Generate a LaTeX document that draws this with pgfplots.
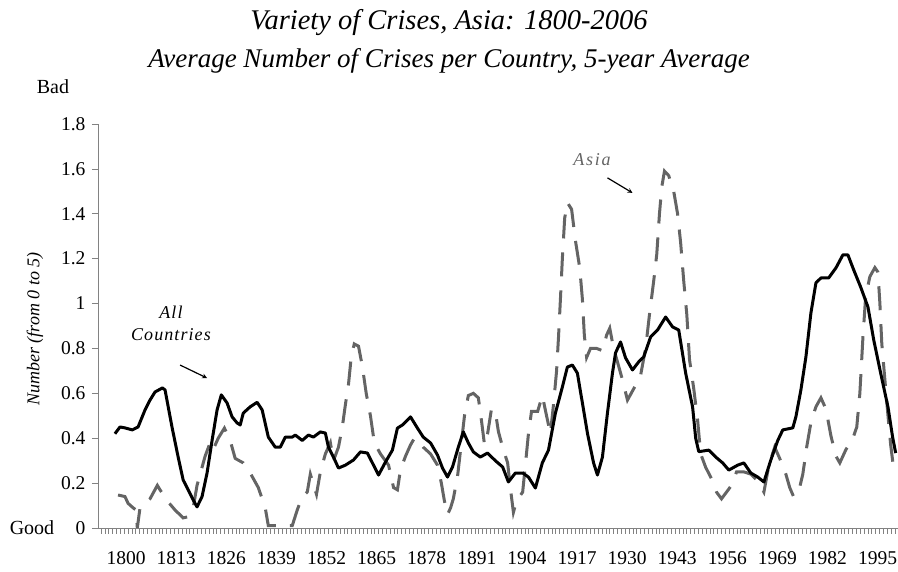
\documentclass[border=0pt]{standalone}
\usepackage{pgfplots}
\pgfplotsset{compat=1.18}
\usepackage{fontspec}
\setmainfont{Liberation Serif}
\definecolor{asiagray}{RGB}{100,100,100}
\definecolor{axgray}{RGB}{130,130,130}
\begin{document}
\begin{tikzpicture}[x=1pt,y=1pt]
\useasboundingbox (0,0) rectangle (898,572);
\begin{axis}[
  at={(98pt,44pt)}, anchor=south west,
  scale only axis, width=800pt, height=404pt,
  xmin=1792.7, xmax=2000.3, ymin=0, ymax=1.8,
  axis lines=left,
  axis line style={axgray, line width=0.8pt, -},
  tick align=outside, tick pos=left,
  major tick length=6pt, minor tick length=6pt,
  tick style={axgray, line width=0.6pt},
  major x tick style={draw=none},
  xtick={1800,1813,1826,1839,1852,1865,1878,1891,1904,1917,1930,1943,1956,1969,1982,1995},
  xticklabels={1800,1813,1826,1839,1852,1865,1878,1891,1904,1917,1930,1943,1956,1969,1982,1995},
  minor xtick={1793.5,1794.5,...,1999.5},
  ytick={0,0.2,0.4,0.6,0.8,1,1.2,1.4,1.6,1.8},
  yticklabels={0,0.2,0.4,0.6,0.8,1,1.2,1.4,1.6,1.8},
  ticklabel style={font=\fontsize{19.5}{20}\selectfont, text=black},
  xticklabel style={yshift=-16pt, inner sep=1pt},
  yticklabel style={xshift=-3pt},
  clip=false,
]
\addplot[asiagray, line width=3pt, line cap=butt, dash pattern=on 24pt off 14pt] coordinates {
(1797.9,0.147)(1799.7,0.14)(1800.5,0.11)(1801.8,0.09)(1802.6,0.08)(1802.9,0.0)(1803.6,0.09)
(1806.2,0.13)(1808.1,0.19)(1808.8,0.17)(1810.9,0.116)(1812.7,0.08)(1814.8,0.045)(1816.1,0.05)
(1817.4,0.09)(1818.4,0.19)(1820.5,0.32)(1821.8,0.38)(1822.6,0.35)(1823.9,0.40)(1825.5,0.445)
(1827.0,0.39)(1828.3,0.31)(1830.4,0.29)(1832.2,0.245)(1834.3,0.18)(1836.1,0.09)(1836.9,0.01)
(1843.1,0.01)(1844.4,0.08)(1845.7,0.14)(1847.0,0.16)(1847.8,0.24)(1849.4,0.15)(1850.4,0.25)
(1851.7,0.33)(1853.0,0.38)(1853.8,0.30)(1855.1,0.36)(1856.1,0.45)(1856.9,0.55)(1857.7,0.64)
(1858.4,0.76)(1859.2,0.82)(1860.3,0.81)(1861.3,0.72)(1862.3,0.60)(1863.4,0.50)(1864.4,0.38)
(1866.0,0.33)(1868.1,0.28)(1869.4,0.18)(1870.4,0.17)(1871.2,0.26)(1872.5,0.32)(1873.8,0.37)
(1874.8,0.40)(1875.8,0.39)(1877.1,0.36)(1879.0,0.33)(1880.8,0.28)(1881.8,0.20)(1882.6,0.12)
(1883.4,0.06)(1884.2,0.09)(1884.9,0.13)(1886.0,0.23)(1887.0,0.38)(1887.8,0.50)(1888.8,0.59)
(1890.1,0.60)(1891.4,0.58)(1892.2,0.48)(1893.0,0.37)(1893.8,0.42)(1894.8,0.53)(1895.8,0.52)
(1896.6,0.43)(1897.7,0.36)(1899.0,0.29)(1899.7,0.18)(1900.5,0.07)(1901.3,0.12)(1902.9,0.16)
(1903.6,0.28)(1904.4,0.42)(1905.2,0.52)(1906.8,0.52)(1908.0,0.59)(1909.1,0.50)(1910.1,0.42)
(1910.9,0.55)(1911.7,0.70)(1912.2,0.85)(1912.7,1.02)(1913.2,1.20)(1913.8,1.38)(1914.5,1.45)
(1915.6,1.42)(1916.6,1.28)(1917.7,1.16)(1918.4,1.02)(1918.9,0.86)(1919.5,0.76)(1920.5,0.80)
(1922.1,0.80)(1923.6,0.79)(1924.7,0.86)(1925.5,0.89)(1926.5,0.80)(1927.5,0.74)(1928.8,0.66)
(1930.1,0.57)(1931.7,0.62)(1933.5,0.68)(1934.8,0.80)(1935.8,0.95)(1936.9,1.10)(1937.7,1.22)
(1938.4,1.40)(1939.0,1.52)(1939.7,1.59)(1940.8,1.57)(1942.1,1.50)(1943.1,1.40)(1943.9,1.27)
(1944.7,1.10)(1945.5,0.95)(1946.2,0.75)(1947.3,0.62)(1948.3,0.48)(1949.1,0.33)(1950.4,0.27)
(1951.9,0.22)(1953.2,0.16)(1954.5,0.13)(1955.8,0.16)(1957.1,0.19)(1958.4,0.25)(1960.3,0.25)
(1962.1,0.24)(1963.9,0.21)(1965.5,0.16)(1966.8,0.28)(1968.3,0.36)(1969.6,0.31)(1971.2,0.24)
(1972.2,0.18)(1973.2,0.14)(1974.5,0.16)(1975.6,0.24)(1976.6,0.36)(1977.7,0.47)(1979.0,0.54)
(1980.3,0.58)(1981.6,0.53)(1982.9,0.41)(1984.2,0.32)(1985.2,0.29)(1986.8,0.35)(1988.6,0.40)
(1989.6,0.45)(1990.4,0.60)(1991.2,0.85)(1991.9,1.03)(1993.0,1.12)(1994.3,1.16)(1995.1,1.14)
(1995.6,1.00)(1996.1,0.82)(1996.9,0.66)(1997.7,0.50)(1998.4,0.37)(1999.2,0.26)
};
\addplot[black, line width=3pt, line join=round] coordinates {
(1797.1,0.42)(1798.4,0.45)(1799.7,0.446)(1801.6,0.437)(1803.1,0.45)(1804.9,0.526)(1806.2,0.57)
(1807.5,0.606)(1809.4,0.624)(1810.1,0.615)(1811.9,0.45)(1813.5,0.316)(1814.8,0.214)(1816.1,0.17)
(1817.4,0.125)(1818.4,0.094)(1819.7,0.14)(1821.0,0.245)(1822.3,0.39)(1823.6,0.526)(1824.7,0.593)
(1826.2,0.557)(1827.5,0.495)(1828.8,0.468)(1829.6,0.459)(1830.4,0.512)(1832.2,0.54)(1834.0,0.56)
(1835.3,0.526)(1836.9,0.405)(1838.7,0.36)(1840.0,0.36)(1841.3,0.405)(1843.1,0.405)(1843.9,0.414)
(1845.7,0.39)(1847.3,0.414)(1848.6,0.405)(1850.4,0.428)(1851.7,0.423)(1852.5,0.36)(1853.8,0.316)
(1855.1,0.267)(1856.9,0.28)(1859.0,0.303)(1860.8,0.339)(1862.6,0.334)(1864.2,0.28)(1865.5,0.236)
(1867.3,0.294)(1869.1,0.347)(1870.4,0.445)(1871.7,0.459)(1873.8,0.495)(1875.6,0.445)(1877.1,0.405)
(1879.0,0.379)(1880.8,0.325)(1882.1,0.267)(1883.4,0.227)(1884.7,0.272)(1886.2,0.36)(1887.5,0.428)
(1888.8,0.379)(1890.1,0.339)(1891.9,0.316)(1893.8,0.334)(1895.8,0.30)(1897.7,0.272)(1899.2,0.205)
(1901.0,0.245)(1902.9,0.245)(1904.4,0.227)(1906.2,0.178)(1908.0,0.29)(1909.6,0.347)(1911.4,0.512)
(1913.2,0.628)(1914.5,0.717)(1915.8,0.726)(1917.1,0.69)(1918.4,0.557)(1919.7,0.423)(1921.3,0.29)
(1922.3,0.236)(1923.6,0.316)(1924.9,0.512)(1926.2,0.69)(1927.0,0.78)(1928.3,0.829)(1929.6,0.758)
(1931.4,0.704)(1933.0,0.74)(1934.3,0.762)(1936.1,0.851)(1937.9,0.882)(1939.2,0.918)(1940.0,0.94)
(1941.8,0.896)(1943.4,0.882)(1945.2,0.69)(1947.0,0.539)(1947.8,0.40)(1948.6,0.34)(1951.2,0.347)
(1953.0,0.316)(1954.8,0.29)(1956.4,0.258)(1958.7,0.28)(1960.3,0.29)(1962.1,0.245)(1963.9,0.227)
(1965.5,0.205)(1967.3,0.303)(1969.1,0.39)(1970.4,0.437)(1973.0,0.446)(1973.8,0.495)(1975.1,0.615)
(1976.4,0.762)(1977.7,0.958)(1979.0,1.092)(1980.3,1.114)(1982.3,1.114)(1984.2,1.159)(1986.0,1.217)
(1987.3,1.217)(1988.8,1.15)(1990.6,1.074)(1992.5,0.985)(1994.0,0.838)(1995.8,0.69)(1997.7,0.539)
(1998.9,0.405)(1999.7,0.334)
};
\draw[-stealth, black, line width=1.2pt] (axis cs:1814.0,0.726) -- (axis cs:1821.0,0.668);
\draw[-stealth, black, line width=1.2pt] (axis cs:1924.9,1.56) -- (axis cs:1931.4,1.493);
\end{axis}
\node[font=\fontsize{28.5}{30}\selectfont\itshape] at (449,549) {Variety of Crises, Asia: 1800-2006};
\node[font=\fontsize{27}{30}\selectfont\itshape] at (449,511) {Average Number of Crises per Country, 5-year Average};
\node[font=\fontsize{20}{22}\selectfont] at (53,485) {Bad};
\node[font=\fontsize{20}{22}\selectfont] at (32,44) {Good};
\node[rotate=90, font=\fontsize{18}{20}\selectfont\itshape] at (35,243) {Number (from 0 to 5)};
\node[font=\fontsize{18}{20}\selectfont\itshape\addfontfeature{LetterSpace=6}] at (171,260) {All};
\node[font=\fontsize{18}{20}\selectfont\itshape\addfontfeature{LetterSpace=6}] at (171,237) {Countries};
\node[font=\fontsize{18}{20}\selectfont\itshape\addfontfeature{LetterSpace=10}, text=asiagray] at (592,412) {Asia};
\end{tikzpicture}
\end{document}
